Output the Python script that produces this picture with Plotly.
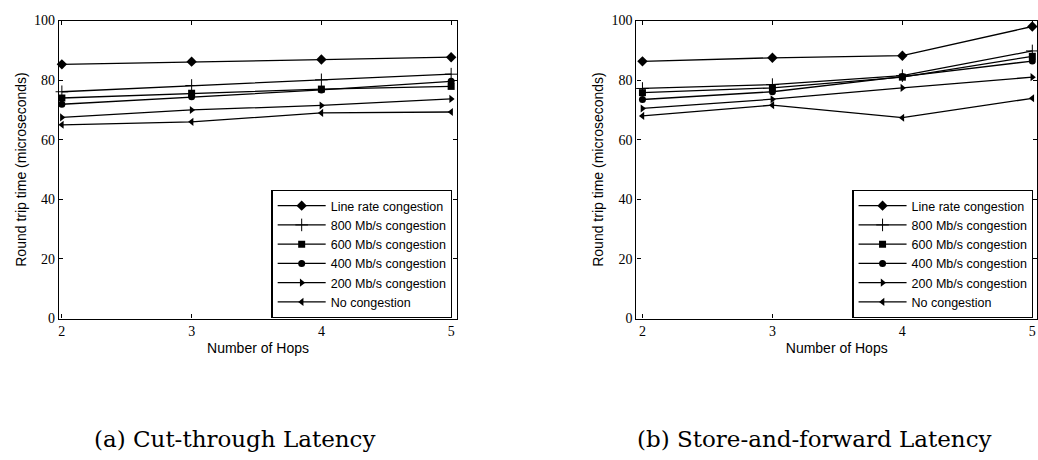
import plotly.graph_objects as go

hops = [2, 3, 4, 5]

series_names = [
    "Line rate congestion",
    "800 Mb/s congestion",
    "600 Mb/s congestion",
    "400 Mb/s congestion",
    "200 Mb/s congestion",
    "No congestion",
]
symbols = ["diamond", "cross-thin", "square", "circle", "triangle-right", "triangle-left"]
marker_sizes = [8, 9, 7, 7, 7, 7]

# Cut-through latency (microseconds)
ct_line_rate = [85.3, 86.2, 86.9, 87.7]
ct_800 = [76.1, 78.2, 80.1, 82.0]
ct_600 = [74.0, 75.6, 77.0, 77.9]
ct_400 = [71.9, 74.4, 76.7, 79.6]
ct_200 = [67.5, 70.0, 71.5, 73.7]
ct_none = [65.0, 66.0, 69.0, 69.3]

# Store-and-forward latency (microseconds)
sf_line_rate = [86.3, 87.5, 88.2, 98.0]
sf_800 = [77.2, 78.5, 81.5, 89.8]
sf_600 = [75.8, 77.4, 81.0, 88.0]
sf_400 = [73.5, 76.1, 81.2, 86.4]
sf_200 = [70.5, 73.6, 77.4, 81.0]
sf_none = [68.0, 71.6, 67.4, 73.9]

y_ticks = [0, 20, 40, 60, 80, 100]
captions = ["(a) Cut-through Latency", "(b) Store-and-forward Latency"]

ct_all = [ct_line_rate, ct_800, ct_600, ct_400, ct_200, ct_none]
sf_all = [sf_line_rate, sf_800, sf_600, sf_400, sf_200, sf_none]

W, H = 1038, 460
SERIF = "Liberation Serif, Times New Roman, serif"
CAPTION_SERIF = "DejaVu Serif, serif"
SANS = "Liberation Sans, Arial, Helvetica, sans-serif"

fig = go.Figure()

for panel, data in enumerate([ct_all, sf_all]):
    xa = "x" if panel == 0 else "x2"
    ya = "y" if panel == 0 else "y2"
    leg = "legend" if panel == 0 else "legend2"
    for name, sym, size, vals in zip(series_names, symbols, marker_sizes, data):
        is_cross = sym == "cross-thin"
        fig.add_trace(go.Scatter(
            x=hops, y=vals, name=name, mode="lines+markers",
            xaxis=xa, yaxis=ya, legend=leg,
            line=dict(color="black", width=1.3),
            marker=dict(symbol=sym, size=size, color="black",
                        line=dict(color="black", width=1 if is_cross else 0)),
            cliponaxis=False,
        ))

def px_x(p):
    return p / W

def px_y(p):
    return (H - p) / H

axis_common = dict(
    showgrid=False, zeroline=False, showline=True, linecolor="black", linewidth=1.2,
    mirror="ticks", ticks="inside", ticklen=4, tickcolor="black",
    tickfont=dict(family=SERIF, size=14, color="black"),
)
title_font = dict(family=SANS, size=14, color="black")

legend_common = dict(
    xanchor="left", yanchor="top",
    bgcolor="white", bordercolor="black", borderwidth=1.2,
    font=dict(family=SANS, size=12.5, color="black"),
    itemwidth=48, tracegroupgap=0,
)

fig.update_layout(
    width=W, height=H,
    margin=dict(l=0, r=0, t=0, b=0),
    paper_bgcolor="white", plot_bgcolor="white",
    xaxis=dict(domain=[px_x(58), px_x(457)], range=[1.977, 5.046],
               tickvals=hops, anchor="y",
               title=dict(text="Number of Hops", font=title_font, standoff=4),
               **axis_common),
    yaxis=dict(domain=[px_y(322), px_y(14)], range=[0, 100], tickvals=y_ticks, anchor="x",
               title=dict(text="Round trip time (microseconds)", font=title_font, standoff=4),
               **axis_common),
    xaxis2=dict(domain=[px_x(636.7), 1.0], range=[1.954, 5.036],
                tickvals=hops, anchor="y2",
                title=dict(text="Number of Hops", font=title_font, standoff=4),
                **axis_common),
    yaxis2=dict(domain=[px_y(322), px_y(14)], range=[0, 100], tickvals=y_ticks, anchor="x2",
                title=dict(text="Round trip time (microseconds)", font=title_font, standoff=4),
                **axis_common),
    legend=dict(x=px_x(271), y=px_y(189), **legend_common),
    legend2=dict(x=px_x(853), y=px_y(189), **legend_common),
    showlegend=True,
)

for cx, text in zip([233.5, 815.5], captions):
    fig.add_annotation(x=px_x(cx), y=px_y(447), xref="paper", yref="paper",
                       text=text, showarrow=False, xanchor="center", yanchor="middle",
                       font=dict(family=CAPTION_SERIF, size=23, color="black"))

fig.write_html("out.html")
